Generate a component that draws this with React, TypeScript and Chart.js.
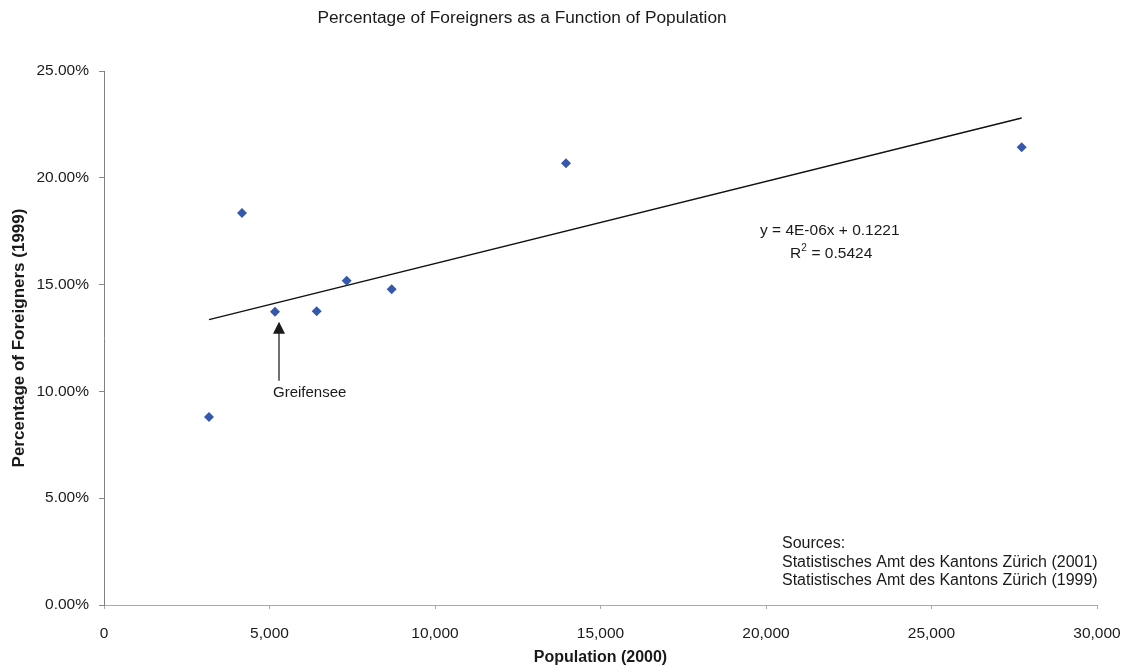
import React, { useEffect, useRef } from "react";
import { Chart, registerables } from "chart.js";

Chart.register(...registerables);

const FONT = "'Liberation Sans', Arial, sans-serif";

const populations = [3172, 4169, 5166, 6425, 7332, 8692, 13958, 27724];
const foreignerPct = [8.8, 18.35, 13.73, 13.75, 15.18, 14.78, 20.68, 21.43];
const trendX = [3172, 27724];
const trendY = [13.36, 22.8];
const xTicks = [0, 5000, 10000, 15000, 20000, 25000, 30000];
const yTicks = [0, 5, 10, 15, 20, 25];
const titleText = "Percentage of Foreigners as a Function of Population";
const equationText = "y = 4E-06x + 0.1221";
const r2Text = "0.5424";
const sourceLines = [
  "Sources:",
  "Statistisches Amt des Kantons Zürich (2001)",
  "Statistisches Amt des Kantons Zürich (1999)",
];
const annotatedLabel = "Greifensee";
const annotatedIndex = 2;

const annotationPlugin = {
  id: "annotations",
  afterDraw(chart: any) {
    const { ctx, scales } = chart;
    const xs = scales.x;
    const ys = scales.y;
    ctx.save();
    ctx.fillStyle = "#1a1a1a";
    // Title
    ctx.font = `17.3px ${FONT}`;
    ctx.textAlign = "center";
    ctx.textBaseline = "middle";
    ctx.fillText(titleText, 522, 18);

    // Equation
    ctx.font = `15.5px ${FONT}`;
    ctx.textAlign = "left";
    ctx.fillText(equationText, 760, 231);
    // R^2
    ctx.fillText("R", 790, 254);
    const rw = ctx.measureText("R").width;
    ctx.font = `10px ${FONT}`;
    ctx.fillText("2", 790 + rw, 248);
    ctx.font = `15.5px ${FONT}`;
    ctx.fillText(" = " + r2Text, 790 + rw + 6, 254);

    // Sources
    ctx.font = `16px ${FONT}`;
    const sy = [544, 563, 581];
    sourceLines.forEach((s, i) => ctx.fillText(s, 782, sy[i]));

    // Greifensee arrow
    const px = xs.getPixelForValue(populations[annotatedIndex]);
    const py = ys.getPixelForValue(foreignerPct[annotatedIndex]);
    const ax = px + 4;
    const tipY = py + 10;
    ctx.strokeStyle = "#222";
    ctx.lineWidth = 1.3;
    ctx.beginPath();
    ctx.moveTo(ax, tipY + 10);
    ctx.lineTo(ax, tipY + 59);
    ctx.stroke();
    ctx.beginPath();
    ctx.moveTo(ax, tipY);
    ctx.lineTo(ax - 6, tipY + 12);
    ctx.lineTo(ax + 6, tipY + 12);
    ctx.closePath();
    ctx.fill();
    ctx.font = `15px ${FONT}`;
    ctx.textAlign = "left";
    ctx.fillText(annotatedLabel, ax - 6, tipY + 71);
    ctx.restore();
  },
};

export default function App() {
  const ref = useRef<HTMLCanvasElement | null>(null);
  useEffect(() => {
    if (!ref.current) return;
    const chart = new Chart(ref.current, {
      type: "scatter",
      data: {
        datasets: [
          {
            label: "Foreigners",
            data: populations.map((x, i) => ({ x, y: foreignerPct[i] })),
            pointStyle: "rectRot",
            pointRadius: 5,
            backgroundColor: "#3658ac",
            borderColor: "#3658ac",
            borderWidth: 0,
          },
          {
            label: "Trend",
            data: trendX.map((x, i) => ({ x, y: trendY[i] })),
            showLine: true,
            pointRadius: 0,
            borderColor: "#111",
            borderWidth: 1.5,
          } as any,
        ],
      },
      options: {
        animation: false,
        responsive: true,
        maintainAspectRatio: false,
        layout: { padding: { top: 71, right: 31, left: 0, bottom: 0 } },
        plugins: {
          legend: { display: false },
          tooltip: { enabled: false },
          title: { display: false },
        },
        scales: {
          x: {
            type: "linear",
            min: 0,
            max: 30000,
            afterBuildTicks: (s: any) => {
              s.ticks = xTicks.map((v) => ({ value: v }));
            },
            afterFit: (s: any) => {
              s.height = 62;
              s.paddingLeft = 0;
              s.paddingRight = 0;
              s.paddingTop = 0;
              s.paddingBottom = 0;
            },
            ticks: {
              color: "#1a1a1a",
              font: { family: FONT, size: 15.5 },
              padding: 15,
              callback: (v: any) => Number(v).toLocaleString("en-US"),
            },
            grid: {
              drawOnChartArea: false,
              drawTicks: true,
              tickLength: 4,
              color: "#aaaaaa",
            },
            border: { display: true, color: "#aaaaaa", width: 1 },
            title: {
              display: true,
              text: "Population (2000)",
              color: "#1a1a1a",
              font: { family: FONT, size: 16, weight: "bold" },
              padding: { top: 0, bottom: 0 },
            },
          },
          y: {
            type: "linear",
            min: 0,
            max: 25,
            afterBuildTicks: (s: any) => {
              s.ticks = yTicks.map((v) => ({ value: v }));
            },
            afterFit: (s: any) => {
              s.width = 104;
              s.paddingLeft = 0;
              s.paddingRight = 0;
              s.paddingTop = 0;
              s.paddingBottom = 0;
            },
            ticks: {
              color: "#1a1a1a",
              font: { family: FONT, size: 15.5 },
              padding: 10,
              callback: (v: any) => Number(v).toFixed(2) + "%",
            },
            grid: {
              drawOnChartArea: false,
              drawTicks: true,
              tickLength: 5,
              color: "#888888",
            },
            border: { display: true, color: "#808080", width: 1 },
            title: {
              display: true,
              text: "Percentage of Foreigners (1999)",
              color: "#1a1a1a",
              font: { family: FONT, size: 17, weight: "bold" },
              padding: { top: 9, bottom: 0 },
            },
          },
        },
      },
      plugins: [annotationPlugin],
    });
    return () => chart.destroy();
  }, []);
  return (
    <div style={{ position: "absolute", left: 0, top: 0, width: 1128, height: 667, background: "#fff" }}>
      <canvas ref={ref} />
    </div>
  );
}
